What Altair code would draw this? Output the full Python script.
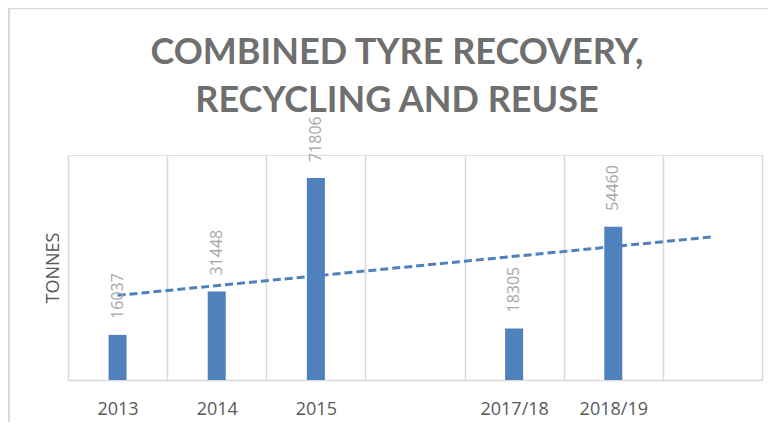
import altair as alt
import numpy as np
import pandas as pd

# ---- data ----
categories = ["2013", "2014", "2015", " ", "2017/18", "2018/19", "  "]
tonnes = [16037, 31448, 71806, None, 18305, 54460, None]

title_lines = ["COMBINED TYRE RECOVERY,", "RECYCLING AND REUSE"]
y_title = "TONNES"

BLUE = "#4f81bd"
GRID = "#d9d9d9"

df = pd.DataFrame({"cat": categories, "value": tonnes})
bars_df = df.dropna()

# Linear trendline (as in the spreadsheet), fitted on category positions 1..7
pos = np.arange(1, len(categories) + 1)
mask = np.array([v is not None for v in tonnes])
slope, intercept = np.polyfit(pos[mask], np.array([v for v in tonnes if v is not None], float), 1)
trend_df = pd.DataFrame({
    "cat": [categories[0], categories[-1]],
    "value": [slope * pos[0] + intercept, slope * pos[-1] + intercept],
})

x_enc = alt.X(
    "cat:N",
    sort=categories,
    scale=alt.Scale(domain=categories, paddingInner=0, paddingOuter=0),
    axis=alt.Axis(
        title=None,
        labelAngle=0,
        labelFont="Open Sans",
        labelFontSize=18,
        labelColor="#595959",
        labelPadding=20,
        ticks=False,
        tickSize=0,
        domainColor=GRID,
        domainWidth=1.5,
        grid=True,
        gridColor=GRID,
        gridWidth=1.5,
        tickBand="extent",
    ),
)
y_scale = alt.Scale(domain=[0, 80000])
y_axis = alt.Axis(
    title=y_title,
    labels=False,
    ticks=False,
    domain=False,
    grid=False,
    titleFont="Open Sans",
    titleFontSize=18,
    titleFontWeight="normal",
    titleColor="#595959",
    titlePadding=6,
)

bars = alt.Chart(bars_df).mark_bar(size=18, color=BLUE).encode(
    x=x_enc,
    y=alt.Y("value:Q", scale=y_scale, axis=y_axis),
)

labels = alt.Chart(bars_df).mark_text(
    angle=270, align="left", baseline="middle", dx=16,
    font="Open Sans", fontSize=16, color="#a6a6a6",
).encode(
    x=alt.X("cat:N", sort=categories),
    y=alt.Y("value:Q"),
    text=alt.Text("value:Q", format="d"),
)

trend = alt.Chart(trend_df).mark_line(
    color=BLUE, strokeWidth=3, strokeDash=[8, 4],
).encode(
    x=alt.X("cat:N", sort=categories),
    y=alt.Y("value:Q"),
)

frame_src = pd.DataFrame({"k": [0]})
frame_left = alt.Chart(frame_src).mark_rule(color=GRID, strokeWidth=2).encode(
    x=alt.value(-59), y=alt.value(-147), y2=alt.value(267)
)
frame_top = alt.Chart(frame_src).mark_rule(color=GRID, strokeWidth=1.5).encode(
    x=alt.value(-60), x2=alt.value(700), y=alt.value(-146.5)
)

chart = (
    alt.layer(frame_left, frame_top, bars, trend, labels)
    .properties(
        width=694,
        height=225,
        title=alt.TitleParams(
            title_lines,
            font="Lato",
            fontSize=36,
            fontWeight="bold",
            color="#6f6f6f",
            lineHeight=48,
            anchor="middle",
            frame="group",
            dx=-18,
            offset=-113,
        ),
        autosize=alt.AutoSizeParams(type="none"),
        padding={"left": 60, "top": 147, "right": 6, "bottom": 42},
    )
    .configure_view(stroke=None)
    .configure(background="white")
)

chart.save("out.html", embed_options={"renderer": "svg", "actions": False})
